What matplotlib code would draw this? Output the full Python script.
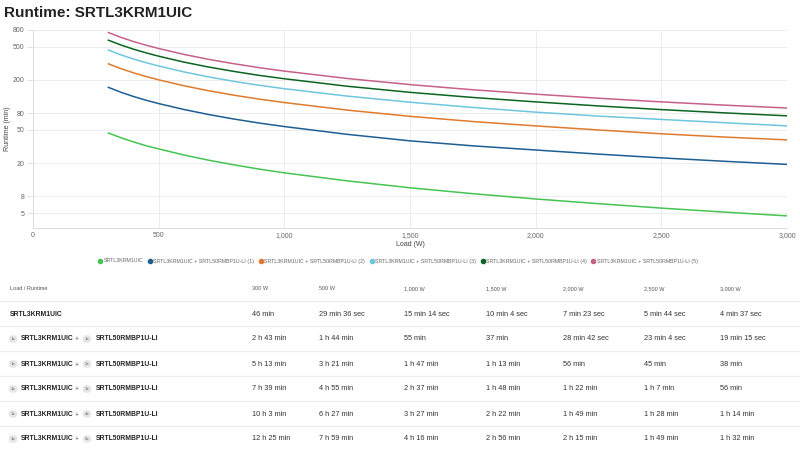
import matplotlib.pyplot as plt
from matplotlib.lines import Line2D
from matplotlib.ticker import FixedLocator, FuncFormatter, NullLocator

plt.rcParams['font.family'] = ['Liberation Sans', 'DejaVu Sans']

# Load points (W); table loads plus in-between readings
load = [300, 350, 400, 450, 500, 600, 700, 800, 900, 1000,
        1250, 1500, 1750, 2000, 2250, 2500, 2750, 3000]

rt_base = [46, 40.3, 35.9, 32.3, 29.6, 25.0, 21.6, 19.0, 16.9, 15.23,
           12.2, 10.07, 8.55, 7.38, 6.48, 5.73, 5.13, 4.62]
rt_1 = [163, 142.3, 126.5, 114.1, 104, 88.3, 76.6, 67.7, 60.6, 55,
        44.3, 37, 32.2, 28.7, 25.6, 23.07, 21.0, 19.25]
rt_2 = [313, 273.8, 243.9, 220.2, 201, 170.6, 148.2, 131.1, 117.7, 107,
        86.8, 73, 63.2, 56, 50.0, 45, 41.1, 38]
rt_3 = [459, 401.6, 357.7, 323.0, 295, 250.4, 217.6, 192.3, 172.8, 157,
        127.9, 108, 93.4, 82, 73.5, 67, 61.2, 56]
rt_4 = [603, 527.6, 469.9, 424.3, 387, 328.7, 285.9, 253.5, 227.3, 207,
        168.2, 142, 123.2, 109, 97.4, 88, 80.4, 74]
rt_5 = [745, 651.8, 580.6, 524.2, 479, 406.9, 353.8, 313.8, 281.4, 256,
        208.5, 176, 152.5, 135, 120.6, 109, 99.6, 92]

series_names = [
    'SRTL3KRM1UIC',
    'SRTL3KRM1UIC + SRTL50RMBP1U-LI (1)',
    'SRTL3KRM1UIC + SRTL50RMBP1U-LI (2)',
    'SRTL3KRM1UIC + SRTL50RMBP1U-LI (3)',
    'SRTL3KRM1UIC + SRTL50RMBP1U-LI (4)',
    'SRTL3KRM1UIC + SRTL50RMBP1U-LI (5)',
]
colors = ['#45c452', '#1d5e93', '#e07a2c', '#6ec6de', '#0c6421', '#c6618a']

y_ticks = [5, 8, 20, 50, 80, 200, 500, 800]
x_ticks = [0, 500, 1000, 1500, 2000, 2500, 3000]

# table
col_heads = ['300 W', '500 W', '1,000 W', '1,500 W', '2,000 W', '2,500 W', '3,000 W']
battery_counts = [0, 1, 2, 3, 4, 5]
table_rows = [
    ['46 min', '29 min 36 sec', '15 min 14 sec', '10 min 4 sec', '7 min 23 sec', '5 min 44 sec', '4 min 37 sec'],
    ['2 h 43 min', '1 h 44 min', '55 min', '37 min', '28 min 42 sec', '23 min 4 sec', '19 min 15 sec'],
    ['5 h 13 min', '3 h 21 min', '1 h 47 min', '1 h 13 min', '56 min', '45 min', '38 min'],
    ['7 h 39 min', '4 h 55 min', '2 h 37 min', '1 h 48 min', '1 h 22 min', '1 h 7 min', '56 min'],
    ['10 h 3 min', '6 h 27 min', '3 h 27 min', '2 h 22 min', '1 h 49 min', '1 h 28 min', '1 h 14 min'],
    ['12 h 25 min', '7 h 59 min', '4 h 16 min', '2 h 56 min', '2 h 15 min', '1 h 49 min', '1 h 32 min'],
]

fig = plt.figure(figsize=(8, 4.5), dpi=100)
W, H = 800, 450

def fx(px):
    return px / W

def fy(py):
    return 1 - py / H

fig.text(fx(4), fy(13), 'Runtime: SRTL3KRM1UIC', fontsize=11, fontweight='bold',
         va='center', ha='left', color='#222222')

ax = fig.add_axes([fx(33), fy(228), fx(787) - fx(33), fy(30) - fy(228)])
all_rt = [rt_base, rt_1, rt_2, rt_3, rt_4, rt_5]
for rt, name, c in zip(all_rt, series_names, colors):
    ax.plot(load, rt, color=c, lw=1.1, label=name, solid_joinstyle='round')

ax.set_yscale('log')
ax.set_ylim(3.3, 800)
ax.set_xlim(0, 3000)
ax.yaxis.set_major_locator(FixedLocator(y_ticks))
ax.yaxis.set_minor_locator(NullLocator())
ax.yaxis.set_major_formatter(FuncFormatter(lambda v, p: f'{v:g}'))
ax.set_xticks(x_ticks)
ax.xaxis.set_major_formatter(FuncFormatter(lambda v, p: f'{int(v):,}'))
ax.grid(True, color='#ececec', lw=0.7)
ax.set_axisbelow(True)
for s in ['top', 'right']:
    ax.spines[s].set_visible(False)
for s in ['left', 'bottom']:
    ax.spines[s].set_color('#dddddd')
    ax.spines[s].set_linewidth(0.7)
ax.tick_params(axis='y', labelsize=5, colors='#666666', length=4, width=0.6, color='#dddddd', pad=2)
ax.tick_params(axis='x', labelsize=5, colors='#666666', length=0, pad=3)
fig.text(fx(8), fy(129), 'Runtime (min)', fontsize=5, color='#444444', rotation=90,
         ha='center', va='center')
fig.text(fx(410), fy(245), 'Load (W)', fontsize=5, color='#444444', ha='center', va='center')

handles = [Line2D([], [], marker='o', linestyle='none', markersize=3,
                  markerfacecolor=c, markeredgecolor=c) for c in colors]
fig.legend(handles, series_names, loc='center', bbox_to_anchor=(fx(398), fy(261)), ncol=6,
           fontsize=3.8, frameon=False, handlelength=0.7, handletextpad=0.3,
           columnspacing=0.9, labelcolor='#666666')

# table below the chart
col_x = [252, 319, 404, 486, 563, 644, 720]
head_y = 289
row_y = [314, 339, 364, 389, 414, 439]

fig.text(fx(10), fy(head_y), 'Load / Runtime', fontsize=4.0, color='#555555', va='center')
for x, t in zip(col_x, col_heads):
    fig.text(fx(x), fy(head_y), t, fontsize=4.0, color='#555555', va='center')

line_ys = [301, 326, 351, 376, 401, 426]
for ly in line_ys:
    fig.add_artist(Line2D([0, 1], [fy(ly), fy(ly)], color='#ececec', lw=0.8))

badge = dict(boxstyle='round,pad=0.4,rounding_size=0.7', fc='#e6e6e6', ec='none')
for ry, n, vals in zip(row_y, battery_counts, table_rows):
    if n == 0:
        fig.text(fx(10), fy(ry), 'SRTL3KRM1UIC', fontsize=4.9, fontweight='bold',
                 color='#222222', va='center')
    else:
        fig.text(fx(13), fy(ry), '1x', fontsize=3.2, color='#666666', va='center',
                 ha='center', bbox=badge)
        fig.text(fx(21), fy(ry), 'SRTL3KRM1UIC', fontsize=4.9, fontweight='bold',
                 color='#222222', va='center')
        fig.text(fx(77), fy(ry + 1), '+', fontsize=4.8, color='#666666', va='center', ha='center')
        fig.text(fx(87), fy(ry), f'{n}x', fontsize=3.2, color='#666666', va='center',
                 ha='center', bbox=badge)
        fig.text(fx(96), fy(ry), 'SRTL50RMBP1U-LI', fontsize=4.9, fontweight='bold',
                 color='#222222', va='center')
    for x, v in zip(col_x, vals):
        fig.text(fx(x), fy(ry), v, fontsize=5.3, color='#333333', va='center')

fig.savefig('out.png', dpi=100, facecolor='white')
